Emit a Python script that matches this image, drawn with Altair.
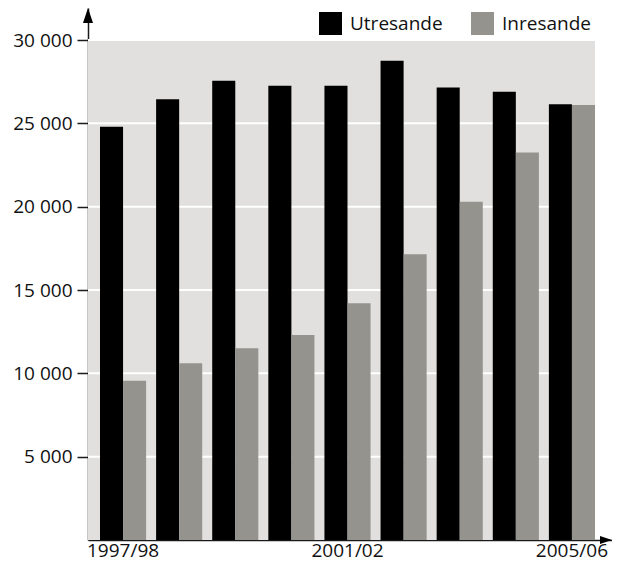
import altair as alt
import pandas as pd

years = ["1997/98", "1998/99", "1999/00", "2000/01", "2001/02",
         "2002/03", "2003/04", "2004/05", "2005/06"]
utresande = [24800, 26450, 27550, 27250, 27250, 28750, 27150, 26900, 26150]
inresande = [9550, 10600, 11500, 12300, 14200, 17150, 20300, 23250, 26100]
series = ["Utresande", "Inresande"]
colors = ["#000000", "#94938e"]
y_ticks = [5000, 10000, 15000, 20000, 25000, 30000]
x_labels = ["1997/98", "2001/02", "2005/06"]

rows = []
for y, u, i in zip(years, utresande, inresande):
    rows.append({"year": y, "series": "Utresande", "value": u})
    rows.append({"year": y, "series": "Inresande", "value": i})
df = pd.DataFrame(rows)

W, H = 524, 532
BG_W = 507
YMAX = 31920
FONT = "Open Sans"
yscale = alt.Scale(domain=[0, YMAX], nice=False, zero=True)
yaxis = alt.Axis(values=y_ticks, grid=False, tickSize=11, tickWidth=1.5,
                 tickColor="#1a1a1a", domainColor="#1a1a1a", domainWidth=1.5,
                 labelFontSize=19, labelFont=FONT, labelColor="#111",
                 labelPadding=5, title=None,
                 labelExpr="replace(format(datum.value, ',d'), ',', ' ')")

bg = alt.Chart(pd.DataFrame({"top": [30000], "bottom": [0]})).mark_rect(
    color="#e1e0de").encode(
    x=alt.value(0), x2=alt.value(BG_W),
    y=alt.Y("top:Q", scale=yscale, axis=yaxis), y2="bottom:Q")

grid = alt.Chart(pd.DataFrame({"v": y_ticks})).mark_rule(
    color="#ffffff", strokeWidth=2).encode(
    x=alt.value(0), x2=alt.value(BG_W),
    y=alt.Y("v:Q", scale=yscale, axis=yaxis))

bars = alt.Chart(df).mark_bar(opacity=1).encode(
    x=alt.X("year:N", sort=years, title=None,
            scale=alt.Scale(paddingInner=0.1782, paddingOuter=0.2584, align=0.4138),
            axis=alt.Axis(values=x_labels, ticks=False, labelAngle=0,
                          labelFontSize=19, labelFont=FONT, labelColor="#111",
                          labelPadding=1, domainColor="#1a1a1a", domainWidth=1.5)),
    xOffset=alt.XOffset("series:N", sort=series),
    y=alt.Y("value:Q", scale=yscale, axis=yaxis),
    color=alt.Color("series:N", sort=series,
                    scale=alt.Scale(domain=series, range=colors),
                    legend=alt.Legend(orient="none", legendX=231, legendY=4,
                                      direction="horizontal", title=None,
                                      symbolType="square", symbolSize=529,
                                      symbolStrokeWidth=0, symbolOpacity=1,
                                      labelFontSize=19, labelFont=FONT,
                                      labelColor="#111", labelOffset=8,
                                      columnPadding=28)),
)

up_arrow = alt.Chart(pd.DataFrame({"a": [1]})).mark_point(
    shape="M0,-1L0.667,1L-0.667,1Z", filled=True, color="#000", size=225,
    opacity=1, strokeWidth=0).encode(x=alt.value(0), y=alt.value(7.5))

right_arrow = alt.Chart(pd.DataFrame({"a": [1]})).mark_point(
    shape="M1,0L-1,0.667L-1,-0.667Z", filled=True, color="#000", size=144,
    opacity=1, strokeWidth=0).encode(x=alt.value(W - 6), y=alt.value(H))

chart = alt.layer(bg, grid, bars, up_arrow, right_arrow).properties(
    width=W, height=H,
    autosize=alt.AutoSizeParams(type="none"),
    padding={"left": 80, "top": 0, "right": 0, "bottom": 22},
).configure(font=FONT).configure_view(strokeWidth=0, stroke="transparent")

chart.save("out.html", embed_options={"renderer": "svg", "actions": False})
